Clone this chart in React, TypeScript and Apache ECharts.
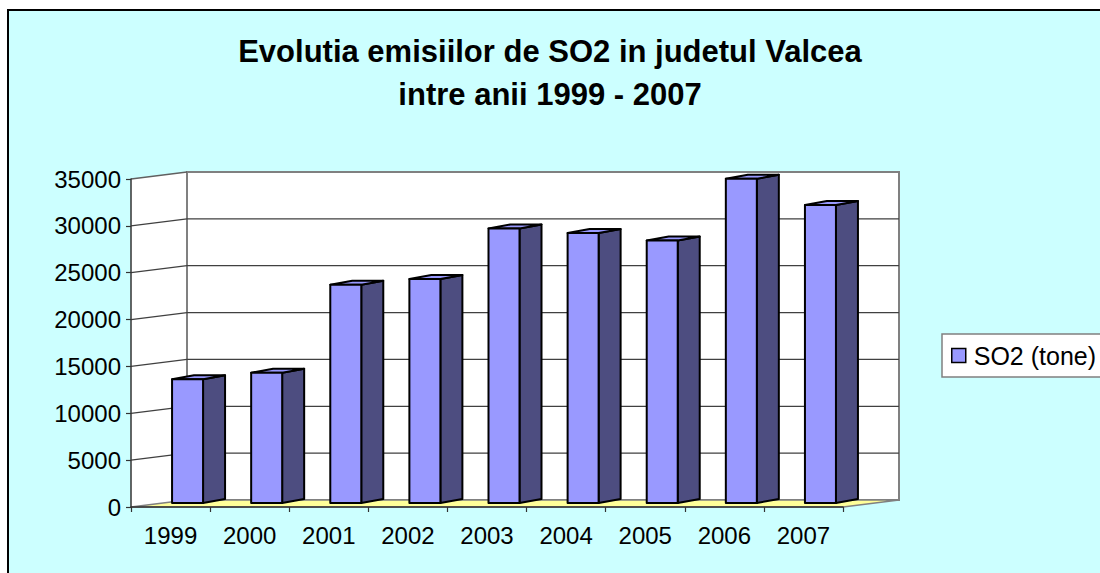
import React, { useEffect, useRef } from "react";
import * as echarts from "echarts";

const years = ["1999", "2000", "2001", "2002", "2003", "2004", "2005", "2006", "2007"];
const so2Tonnes = [13200, 13900, 23300, 23900, 29300, 28800, 28000, 34600, 31800];
const seriesName = "SO2 (tone)";
const titleLines = ["Evolutia emisiilor de SO2 in judetul Valcea", "intre anii 1999 - 2007"];
const yTicks = [0, 5000, 10000, 15000, 20000, 25000, 30000, 35000];
const yMax = 35000;
const yStep = 5000;

// projection / styling constants
const DEPTH_DX = 56;
const DEPTH_DY = -7;
const BAR_FRONT_DX = 17;
const BAR_FRONT_DY = -4;
const BAR_SIDE_DX = 22;
const BAR_SIDE_DY = -4;
const BAR_W = 31;

const FONT = "'Liberation Sans', Arial, sans-serif";

export default function App() {
  const ref = useRef<HTMLDivElement>(null);

  useEffect(() => {
    const chart = echarts.init(ref.current as HTMLDivElement, null, { renderer: "svg" });

    const renderWalls = (params: any, api: any) => {
      const cs = params.coordSys;
      const x0 = cs.x;
      const x1 = cs.x + cs.width;
      const yTop = api.coord([0, yMax])[1];
      const yBot = api.coord([0, 0])[1];
      const children: any[] = [];
      children.push({
        type: "polygon",
        shape: { points: [[x0, yTop], [x0 + DEPTH_DX, yTop + DEPTH_DY], [x0 + DEPTH_DX, yBot + DEPTH_DY], [x0, yBot]] },
        style: { fill: "#FFFFFF", stroke: "none" },
      });
      children.push({
        type: "polygon",
        shape: {
          points: [
            [x0 + DEPTH_DX, yTop + DEPTH_DY],
            [x1 + DEPTH_DX, yTop + DEPTH_DY],
            [x1 + DEPTH_DX, yBot + DEPTH_DY],
            [x0 + DEPTH_DX, yBot + DEPTH_DY],
          ],
        },
        style: { fill: "#FFFFFF", stroke: "#808080", lineWidth: 2 },
      });
      yTicks.forEach((v) => {
        if (v === 0) return;
        const y = api.coord([0, v])[1];
        const pts = v === yMax
          ? [[x0, y], [x0 + DEPTH_DX, y + DEPTH_DY]]
          : [[x0, y], [x0 + DEPTH_DX, y + DEPTH_DY], [x1 + DEPTH_DX, y + DEPTH_DY]];
        children.push({
          type: "polyline",
          shape: { points: pts },
          style: { fill: "none", stroke: v === yMax ? "#606060" : "#404040", lineWidth: 1.3 },
        });
      });
      children.push({
        type: "polygon",
        shape: { points: [[x0, yBot], [x1, yBot], [x1 + DEPTH_DX, yBot + DEPTH_DY], [x0 + DEPTH_DX, yBot + DEPTH_DY]] },
        style: { fill: "#FFFF99", stroke: "#808080", lineWidth: 1.5 },
      });
      return { type: "group", children };
    };

    const renderBars = (params: any, api: any) => {
      const i = api.value(0);
      const v = api.value(1);
      const top = api.coord([i, v]);
      const base = api.coord([i, 0]);
      const xl = top[0] - BAR_W / 2 + BAR_FRONT_DX;
      const xr = xl + BAR_W;
      const yt = top[1] + BAR_FRONT_DY;
      const yb = base[1] + BAR_FRONT_DY;
      const sx = BAR_SIDE_DX;
      const sy = BAR_SIDE_DY;
      const st = { stroke: "#000000", lineWidth: 2, lineJoin: "round" };
      return {
        type: "group",
        children: [
          {
            type: "polygon",
            shape: { points: [[xr, yt], [xr + sx, yt + sy], [xr + sx, yb + sy], [xr, yb]] },
            style: { fill: "#4D4D80", ...st },
          },
          {
            type: "polygon",
            shape: { points: [[xl, yt], [xr, yt], [xr + sx, yt + sy], [xl + sx, yt + sy]] },
            style: { fill: "#9999FF", ...st },
          },
          {
            type: "polygon",
            shape: { points: [[xl, yt], [xr, yt], [xr, yb], [xl, yb]] },
            style: { fill: "#9999FF", ...st },
          },
        ],
      };
    };

    const option: any = {
      animation: false,
      backgroundColor: "#FFFFFF",
      graphic: [
        {
          type: "rect",
          z: -10,
          silent: true,
          shape: { x: 8, y: 10, width: 1200, height: 700 },
          style: { fill: "#CCFFFF", stroke: "#000000", lineWidth: 2 },
        },
      ],
      title: {
        text: titleLines.join("\n"),
        left: "center",
        top: 30,
        padding: 0,
        textStyle: {
          fontSize: 31,
          fontWeight: "bold",
          fontFamily: FONT,
          color: "#000000",
          lineHeight: 43,
          align: "center",
        },
      },
      legend: {
        data: [seriesName],
        left: 942,
        top: 334,
        orient: "vertical",
        icon: "rect",
        itemWidth: 14,
        itemHeight: 14,
        padding: [7, 40, 7, 9],
        backgroundColor: "#FFFFFF",
        borderColor: "#808080",
        borderWidth: 1.5,
        selectedMode: false,
        itemStyle: { color: "#9999FF", borderColor: "#000000", borderWidth: 1.5 },
        textStyle: { fontSize: 25, fontFamily: FONT, color: "#000000", lineHeight: 29, padding: [0, 0, 0, 3] },
      },
      grid: { left: 131, top: 179, width: 712, height: 328, containLabel: false },
      xAxis: {
        type: "category",
        data: years,
        z: 5,
        axisLine: { show: true, lineStyle: { color: "#333333", width: 1.5 } },
        axisTick: { show: true, length: 5, lineStyle: { color: "#333333", width: 1.2 } },
        axisLabel: { fontSize: 24, fontFamily: FONT, color: "#000000", margin: 16 },
        splitLine: { show: false },
      },
      yAxis: {
        type: "value",
        min: 0,
        max: yMax,
        interval: yStep,
        z: 5,
        axisLine: { show: true, lineStyle: { color: "#333333", width: 1.5 } },
        axisTick: { show: true, length: 5, lineStyle: { color: "#333333", width: 1.2 } },
        axisLabel: {
          fontSize: 24,
          fontFamily: FONT,
          color: "#000000",
          margin: 10,
          formatter: (v: number) => String(v),
        },
        splitLine: { show: false },
      },
      series: [
        {
          type: "custom",
          name: "walls",
          z: 1,
          silent: true,
          data: [[0, 0]],
          renderItem: renderWalls,
        },
        {
          type: "custom",
          name: seriesName,
          z: 3,
          data: so2Tonnes.map((v, i) => [i, v]),
          encode: { x: 0, y: 1 },
          itemStyle: { color: "#9999FF", borderColor: "#000000", borderWidth: 1.5 },
          renderItem: renderBars,
        },
      ],
    };

    chart.setOption(option);
    return () => {
      chart.dispose();
    };
  }, []);

  return (
    <div
      ref={ref}
      style={{ position: "absolute", left: 0, top: 0, width: 1100, height: 573 }}
    />
  );
}
